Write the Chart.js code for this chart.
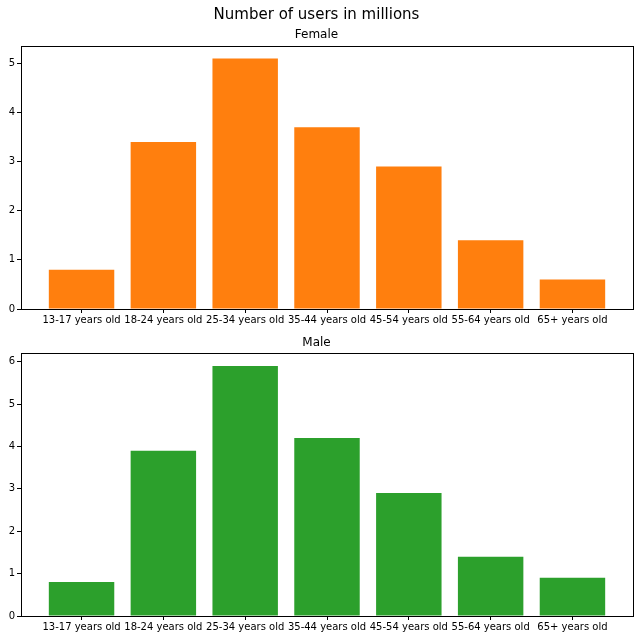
<!DOCTYPE html>
<html>
<head>
<meta charset="utf-8">
<script src="https://cdn.jsdelivr.net/npm/chart.js@4.4.0/dist/chart.umd.min.js"></script>
<style>
  body { margin: 0; background: #fff; }
  #wrap { position: relative; width: 640px; height: 640px; }
  #femaleChart { position: absolute; left: 0; top: 0; }
  #maleChart { position: absolute; left: 0; top: 330px; }
</style>
</head>
<body>
<div id="wrap">
  <canvas id="femaleChart" width="640" height="330"></canvas>
  <canvas id="maleChart" width="640" height="310"></canvas>
</div>
<script>
// datos
const ageGroups = ['13-17 years old', '18-24 years old', '25-34 years old', '35-44 years old', '45-54 years old', '55-64 years old', '65+ years old'];
const femaleUsers = [0.8, 3.4, 5.1, 3.7, 2.9, 1.4, 0.6];
const maleUsers = [0.8, 3.9, 5.9, 4.2, 2.9, 1.4, 0.9];
const femaleTicks = [0, 1, 2, 3, 4, 5];
const maleTicks = [0, 1, 2, 3, 4, 5, 6];

Chart.defaults.font.family = 'DejaVu Sans';
Chart.defaults.color = '#000';

// marco alrededor del área del gráfico
const framePlugin = {
    id: 'frame',
    afterDraw(chart) {
        const a = chart.chartArea;
        const ctx = chart.ctx;
        ctx.save();
        ctx.strokeStyle = '#000';
        ctx.lineWidth = 1;
        ctx.strokeRect(Math.round(a.left) + 0.5, Math.round(a.top) + 0.5,
            Math.round(a.right - a.left), Math.round(a.bottom - a.top));
        ctx.restore();
    }
};

function makeChart(id, values, ticks, color, subtitle, mainTitle, titleCfg, xHeight) {
    const points = values.map((v, i) => ({ x: i, y: v }));
    const ctx = document.getElementById(id).getContext('2d');
    return new Chart(ctx, {
        type: 'bar',
        data: {
            datasets: [{
                label: subtitle,
                data: points,
                backgroundColor: color,
                borderWidth: 0,
                barPercentage: 0.8,
                categoryPercentage: 1.0
            }]
        },
        options: {
            responsive: false,
            animation: false,
            layout: { padding: { left: 0, right: 7, top: 0, bottom: 0 } },
            plugins: {
                legend: { display: false },
                tooltip: { enabled: false },
                title: {
                    display: !!mainTitle,
                    text: mainTitle,
                    color: '#000',
                    font: { size: 15, weight: 'normal' },
                    padding: { top: 6, bottom: 0 }
                },
                subtitle: {
                    display: true,
                    text: subtitle,
                    color: '#000',
                    font: { size: 12, weight: 'normal' },
                    padding: titleCfg
                }
            },
            scales: {
                x: {
                    type: 'linear',
                    offset: false,
                    min: -0.74,
                    max: ageGroups.length - 1 + 0.74,
                    border: { display: false },
                    grid: { offset: false, drawOnChartArea: false, drawTicks: true, tickLength: 4, color: '#000' },
                    afterBuildTicks: axis => { axis.ticks = ageGroups.map((_, i) => ({ value: i })); },
                    afterFit: axis => { axis.height = xHeight; },
                    ticks: {
                        autoSkip: false,
                        maxRotation: 0,
                        padding: 1,
                        font: { size: 10 },
                        callback: v => ageGroups[v]
                    }
                },
                y: {
                    min: 0,
                    max: Math.max(...values) * 1.05,
                    border: { display: false },
                    grid: { drawOnChartArea: false, drawTicks: true, tickLength: 4, color: '#000' },
                    afterBuildTicks: axis => { axis.ticks = ticks.map(t => ({ value: t })); },
                    afterFit: axis => { axis.width = 21; },
                    ticks: { padding: 2, font: { size: 10 } }
                }
            }
        },
        plugins: [framePlugin]
    });
}

makeChart('femaleChart', femaleUsers, femaleTicks, '#ff7f0e', 'Female',
    'Number of users in millions', { top: 4, bottom: 3.6 }, 21);
makeChart('maleChart', maleUsers, maleTicks, '#2ca02c', 'Male',
    '', { top: 6, bottom: 3 }, 24);
</script>
</body>
</html>
